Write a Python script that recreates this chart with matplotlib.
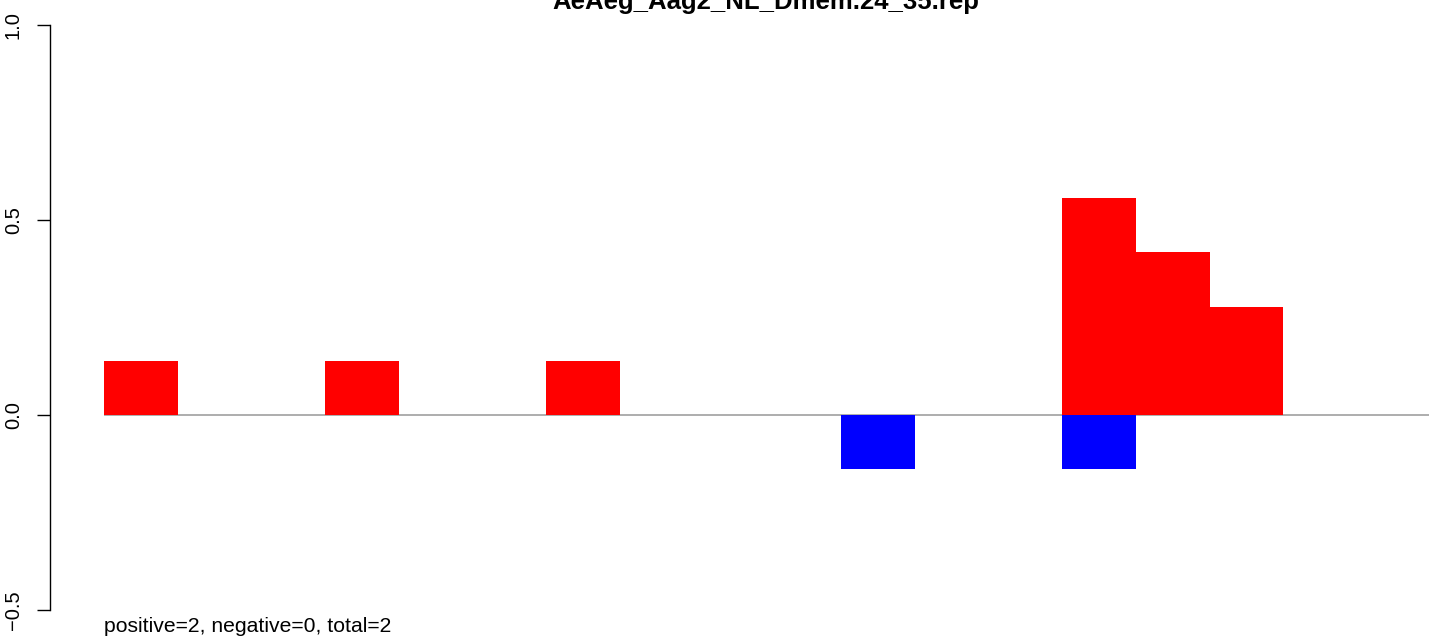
#!/usr/bin/env python3

import matplotlib
matplotlib.use("Agg")
import matplotlib.pyplot as plt
import numpy as np

plt.rcParams['font.family'] = ['Liberation Sans', 'DejaVu Sans']

# read lengths along x, one bar slot each
lengths = list(range(18, 36))
pos_values = [0.139, 0, 0, 0.139, 0, 0, 0.139, 0, 0, 0, 0, 0, 0, 0.556, 0.417, 0.278, 0, 0]
neg_values = [0, 0, 0, 0, 0, 0, 0, 0, 0, 0, -0.139, 0, 0, -0.139, 0, 0, 0, 0]
y_ticks = [-0.5, 0.0, 0.5, 1.0]
y_labels = ["\u22120.5", "0.0", "0.5", "1.0"]
title = "AeAeg_Aag2_NL_Dmem.24_35.rep"
note = "positive=2, negative=0, total=2"


def main():
    W, H = 1429, 636
    fig = plt.figure(figsize=(W / 100, H / 100), dpi=100)
    ax = fig.add_axes([50 / W, 0, (W - 50) / W, 1])

    x = np.arange(len(lengths))
    ax.hlines(0, 0, len(lengths) + 2, color="#a0a0a0", lw=1.2, zorder=1)
    ax.bar(x, pos_values, width=1.0, align="edge", color="#ff0000", lw=0, zorder=2)
    ax.bar(x, neg_values, width=1.0, align="edge", color="#0000ff", lw=0, zorder=2)

    ax.set_xlim(-54 / 73.7, 1325 / 73.7)
    ax.set_ylim(-221 / 390, 1.0 + 25 / 390)

    for s in ["top", "right", "bottom"]:
        ax.spines[s].set_visible(False)
    ax.spines["left"].set_bounds(-0.5, 1.0)
    ax.spines["left"].set_linewidth(1.0)
    ax.set_xticks([])
    ax.set_yticks(y_ticks)
    ax.set_yticklabels(y_labels, rotation=90, va="center", fontsize=14.5)
    ax.tick_params(axis="y", length=9.5, width=1.0, pad=10)

    fig.text(766 / W, 1 - 9 / H, title, ha="center", va="baseline",
             fontsize=18.5, fontweight="bold")
    fig.text(104 / W, 1 - 632 / H, note, ha="left", va="baseline", fontsize=15.2)

    fig.savefig("out.png", dpi=100)


if __name__ == "__main__":
    main()
